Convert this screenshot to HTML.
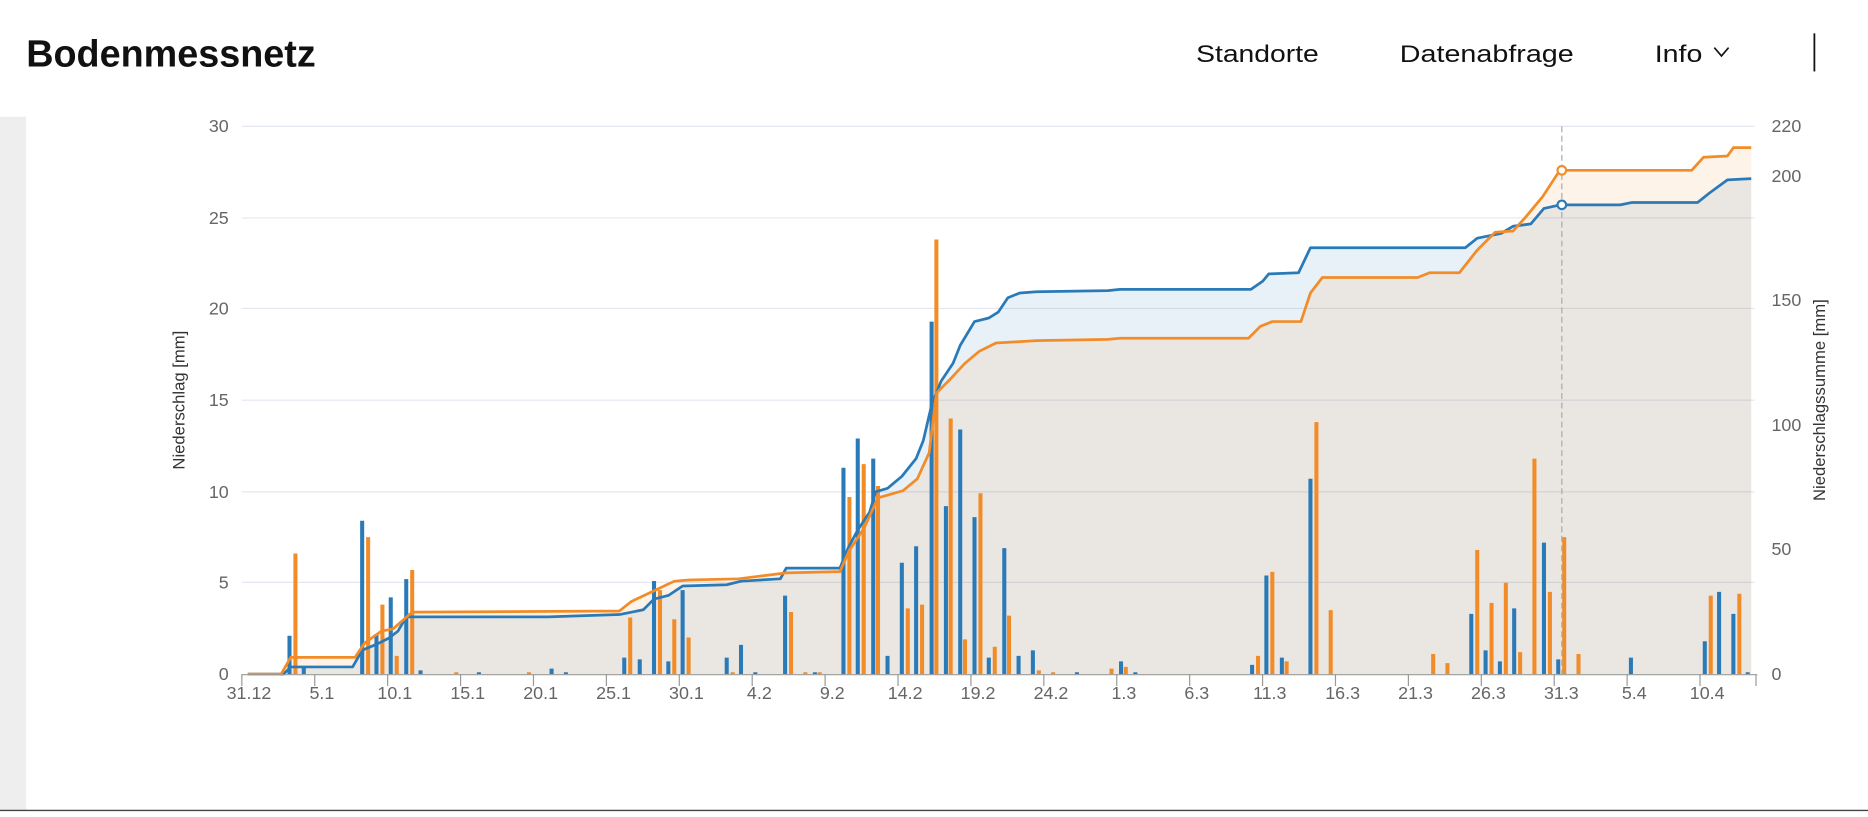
<!DOCTYPE html>
<html><head><meta charset="utf-8"><style>
html,body{margin:0;padding:0;background:#fff;overflow:hidden}
svg{display:block}
text{font-family:"Liberation Sans",sans-serif}
</style></head><body>
<svg width="1868" height="817" viewBox="0 0 1568 686" preserveAspectRatio="none" xmlns="http://www.w3.org/2000/svg">
<rect x="0" y="98" width="22" height="582" fill="#eeeeef"/>
<line x1="0" y1="680.5" x2="1568" y2="680.5" stroke="#444" stroke-width="1.2"/>
<text x="22" y="56" font-size="32" font-weight="bold" fill="#111" textLength="243" lengthAdjust="spacingAndGlyphs">Bodenmessnetz</text>
<text x="1004" y="52" font-size="20" fill="#111" textLength="103" lengthAdjust="spacingAndGlyphs">Standorte</text>
<text x="1175" y="52" font-size="20" fill="#111" textLength="146" lengthAdjust="spacingAndGlyphs">Datenabfrage</text>
<text x="1389" y="52" font-size="20" fill="#111" textLength="40" lengthAdjust="spacingAndGlyphs">Info</text>
<polyline points="1439,40 1445,47 1451,40" fill="none" stroke="#111" stroke-width="1.4"/>
<line x1="1523" y1="28" x2="1523" y2="60" stroke="#111" stroke-width="1.5"/>

<g stroke="#e3e7ef" stroke-width="1">
<line x1="203" y1="106" x2="1473" y2="106"/><line x1="203" y1="183" x2="1473" y2="183"/>
<line x1="203" y1="259" x2="1473" y2="259"/><line x1="203" y1="336" x2="1473" y2="336"/>
<line x1="203" y1="413" x2="1473" y2="413"/><line x1="203" y1="489" x2="1473" y2="489"/>
</g>
<g font-size="15" fill="#666" text-anchor="end">
<text x="192" y="111">30</text><text x="192" y="188">25</text><text x="192" y="264">20</text>
<text x="192" y="341">15</text><text x="192" y="418">10</text><text x="192" y="494">5</text><text x="192" y="571">0</text>
</g>
<g font-size="15" fill="#666">
<text x="1487" y="111">220</text><text x="1487" y="153">200</text><text x="1487" y="257">150</text>
<text x="1487" y="362">100</text><text x="1487" y="466">50</text><text x="1487" y="571">0</text>
</g>
<text transform="translate(155,336) rotate(-90)" font-size="14" fill="#333" text-anchor="middle">Niederschlag [mm]</text>
<text transform="translate(1532,336) rotate(-90)" font-size="14" fill="#333" text-anchor="middle">Niederschlagssumme [mm]</text>

<polygon fill="#2a7ab8" fill-opacity="0.1" points="208,566 238,566 244,560 296,560 304,546 316,541 326,536 334,530 341,518 460,518 520,516 540,512 549,503 561,500 573,492 610,491 622,488 655,486 660,477 705,477 712,460 720,445 730,430 735,413 745,410 757,400 769,385 775,370 782,340 790,320 800,305 806,290 818,270 830,267 838,262 846,250 856,246 870,245 930,244 940,243 1050,243 1060,236 1065,230 1090,229 1100,208 1230,208 1240,200 1260,196 1270,190 1285,188 1296,175 1310,172 1360,172 1370,170 1425,170 1435,162 1450,151 1470,150 1470,566"/>
<polygon fill="#f28c28" fill-opacity="0.1" points="208,566 236,566 244,552 298,552 306,540 320,530 330,528 346,514 520,513 530,505 549,496 566,488 578,487 620,486 660,481 705,480 713,462 725,444 737,418 758,412 770,402 780,380 786,330 798,318 810,305 822,295 836,288 870,286 930,285 940,284 1048,284 1058,274 1068,270 1092,270 1100,246 1110,233 1190,233 1200,229 1225,229 1240,210 1255,195 1270,194 1280,183 1295,165 1308,145 1313,143 1420,143 1430,132 1450,131 1455,124 1470,124 1470,566"/>

<path fill="#2a7ab8" d="M241.3,566V533.8h3.4V566zM253.3,566V559.9h3.4V566zM302.3,566V437.2h3.4V566zM314.3,566V532.3h3.4V566zM326.3,566V501.6h3.4V566zM339.3,566V486.3h3.4V566zM351.3,566V562.9h3.4V566zM400.3,566V564.5h3.4V566zM461.3,566V561.4h3.4V566zM473.3,566V564.5h3.4V566zM522.3,566V552.2h3.4V566zM535.3,566V553.7h3.4V566zM547.3,566V487.8h3.4V566zM559.3,566V555.3h3.4V566zM571.3,566V495.5h3.4V566zM608.3,566V552.2h3.4V566zM620.3,566V541.5h3.4V566zM632.3,566V564.5h3.4V566zM657.3,566V500.1h3.4V566zM682.3,566V564.5h3.4V566zM706.3,566V392.8h3.4V566zM718.3,566V368.2h3.4V566zM731.3,566V385.1h3.4V566zM743.3,566V550.7h3.4V566zM755.3,566V472.5h3.4V566zM767.3,566V458.7h3.4V566zM780.3,566V270.1h3.4V566zM792.3,566V425h3.4V566zM804.3,566V360.6h3.4V566zM816.3,566V434.2h3.4V566zM828.3,566V552.2h3.4V566zM841.3,566V460.2h3.4V566zM853.3,566V550.7h3.4V566zM865.3,566V546.1h3.4V566zM902.3,566V564.5h3.4V566zM939.3,566V555.3h3.4V566zM951.3,566V564.5h3.4V566zM1049.3,566V558.3h3.4V566zM1061.3,566V483.2h3.4V566zM1074.3,566V552.2h3.4V566zM1098.3,566V402h3.4V566zM1233.3,566V515.4h3.4V566zM1245.3,566V546.1h3.4V566zM1257.3,566V555.3h3.4V566zM1269.3,566V510.8h3.4V566zM1294.3,566V455.6h3.4V566zM1306.3,566V553.7h3.4V566zM1367.3,566V552.2h3.4V566zM1429.3,566V538.4h3.4V566zM1441.3,566V497h3.4V566zM1453.3,566V515.4h3.4V566zM1465.3,566V564.5h3.4V566z"/>
<path fill="#f28c28" d="M246.3,566V464.8h3.4V566zM307.3,566V451h3.4V566zM319.3,566V507.7h3.4V566zM331.3,566V550.7h3.4V566zM344.3,566V478.6h3.4V566zM381.3,566V564.5h3.4V566zM442.3,566V564.5h3.4V566zM527.3,566V518.5h3.4V566zM552.3,566V495.5h3.4V566zM564.3,566V520h3.4V566zM576.3,566V535.3h3.4V566zM613.3,566V564.5h3.4V566zM662.3,566V513.9h3.4V566zM674.3,566V564.5h3.4V566zM686.3,566V564.5h3.4V566zM711.3,566V417.3h3.4V566zM723.3,566V389.7h3.4V566zM735.3,566V408.1h3.4V566zM760.3,566V510.8h3.4V566zM772.3,566V507.7h3.4V566zM784.3,566V201.1h3.4V566zM796.3,566V351.4h3.4V566zM808.3,566V536.9h3.4V566zM821.3,566V414.2h3.4V566zM833.3,566V543h3.4V566zM845.3,566V516.9h3.4V566zM870.3,566V562.9h3.4V566zM882.3,566V564.5h3.4V566zM931.3,566V561.4h3.4V566zM943.3,566V559.9h3.4V566zM1054.3,566V550.7h3.4V566zM1066.3,566V480.2h3.4V566zM1078.3,566V555.3h3.4V566zM1103.3,566V354.4h3.4V566zM1115.3,566V512.3h3.4V566zM1201.3,566V549.1h3.4V566zM1213.3,566V556.8h3.4V566zM1238.3,566V461.8h3.4V566zM1250.3,566V506.2h3.4V566zM1262.3,566V489.3h3.4V566zM1274.3,566V547.6h3.4V566zM1286.3,566V385.1h3.4V566zM1299.3,566V497h3.4V566zM1311.3,566V451h3.4V566zM1323.3,566V549.1h3.4V566zM1434.3,566V500.1h3.4V566zM1458.3,566V498.5h3.4V566z"/>

<polyline fill="none" stroke="#2a7ab8" stroke-width="2.3" stroke-linejoin="round" points="208,566 238,566 244,560 296,560 304,546 316,541 326,536 334,530 341,518 460,518 520,516 540,512 549,503 561,500 573,492 610,491 622,488 655,486 660,477 705,477 712,460 720,445 730,430 735,413 745,410 757,400 769,385 775,370 782,340 790,320 800,305 806,290 818,270 830,267 838,262 846,250 856,246 870,245 930,244 940,243 1050,243 1060,236 1065,230 1090,229 1100,208 1230,208 1240,200 1260,196 1270,190 1285,188 1296,175 1310,172 1360,172 1370,170 1425,170 1435,162 1450,151 1470,150"/>
<polyline fill="none" stroke="#f28c28" stroke-width="2.3" stroke-linejoin="round" points="208,566 236,566 244,552 298,552 306,540 320,530 330,528 346,514 520,513 530,505 549,496 566,488 578,487 620,486 660,481 705,480 713,462 725,444 737,418 758,412 770,402 780,380 786,330 798,318 810,305 822,295 836,288 870,286 930,285 940,284 1048,284 1058,274 1068,270 1092,270 1100,246 1110,233 1190,233 1200,229 1225,229 1240,210 1255,195 1270,194 1280,183 1295,165 1308,145 1313,143 1420,143 1430,132 1450,131 1455,124 1470,124"/>

<line x1="1311" y1="106" x2="1311" y2="566" stroke="#aaa" stroke-width="1" stroke-dasharray="5,3"/>
<circle cx="1311" cy="143" r="3.6" fill="#fff" stroke="#f28c28" stroke-width="1.8"/>
<circle cx="1311" cy="172" r="3.6" fill="#fff" stroke="#2a7ab8" stroke-width="1.8"/>

<line x1="203" y1="566.5" x2="1475" y2="566.5" stroke="#999" stroke-width="1"/>
<path stroke="#999" stroke-width="1" fill="none" d="M203,566v10M264.2,566v10M325.4,566v10M386.6,566v10M447.8,566v10M509,566v10M570.2,566v10M631.4,566v10M692.6,566v10M753.8,566v10M815,566v10M876.2,566v10M937.4,566v10M998.6,566v10M1059.8,566v10M1121,566v10M1182.2,566v10M1243.4,566v10M1304.6,566v10M1365.8,566v10M1427,566v10M1474,566v10"/>
<g font-size="15" fill="#666" text-anchor="middle">
<text x="209" y="587">31.12</text><text x="270.2" y="587">5.1</text><text x="331.4" y="587">10.1</text>
<text x="392.6" y="587">15.1</text><text x="453.8" y="587">20.1</text><text x="515" y="587">25.1</text>
<text x="576.2" y="587">30.1</text><text x="637.4" y="587">4.2</text><text x="698.6" y="587">9.2</text>
<text x="759.8" y="587">14.2</text><text x="821" y="587">19.2</text><text x="882.2" y="587">24.2</text>
<text x="943.4" y="587">1.3</text><text x="1004.6" y="587">6.3</text><text x="1065.8" y="587">11.3</text>
<text x="1127" y="587">16.3</text><text x="1188.2" y="587">21.3</text><text x="1249.4" y="587">26.3</text>
<text x="1310.6" y="587">31.3</text><text x="1371.8" y="587">5.4</text><text x="1433" y="587">10.4</text>
</g>
</svg>
</body></html>
